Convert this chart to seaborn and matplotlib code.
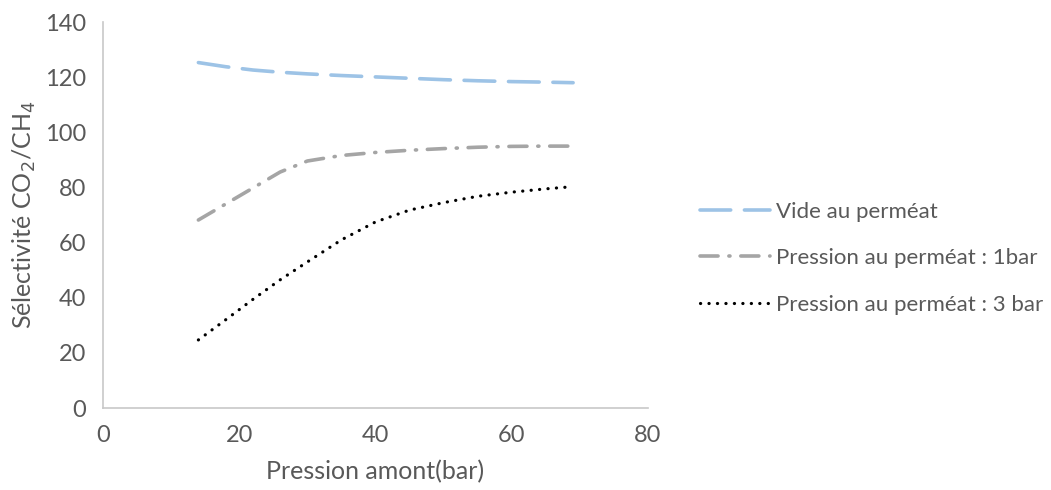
import matplotlib
matplotlib.use("Agg")
import matplotlib.pyplot as plt
import numpy as np
import pandas as pd
import seaborn as sns

# ── données ────────────────────────────────────────────────────────────────────
pression_amont = [14, 18, 22, 26, 30, 35, 40, 45, 50, 55, 60, 65, 69]
vide_permeat = [125.3, 123.8, 122.6, 121.8, 121.2, 120.6, 120.1, 119.6, 119.1, 118.7, 118.4, 118.2, 118.0]
permeat_1bar = [68.2, 74.0, 79.8, 85.6, 89.6, 91.6, 92.7, 93.5, 94.1, 94.6, 94.9, 95.0, 95.0]
permeat_3bar = [24.7, 32.0, 39.4, 46.5, 53.0, 61.0, 67.5, 71.8, 74.5, 76.8, 78.3, 79.5, 80.3]

labels = ["Vide au perméat", "Pression au perméat : 1bar", "Pression au perméat : 3 bar"]
x_ticks = [0, 20, 40, 60, 80]
y_ticks = [0, 20, 40, 60, 80, 100, 120, 140]

TEXT = "#595959"
SPINE = "#c8c8c8"
FS = 17

sns.set_theme(style="white")
plt.rcParams.update({
    "font.family": ["Lato", "DejaVu Sans"],
    "font.size": FS,
    "text.color": TEXT,
    "axes.labelcolor": TEXT,
    "xtick.color": TEXT,
    "ytick.color": TEXT,
})

df = pd.DataFrame({
    "x": pression_amont * 3,
    "y": vide_permeat + permeat_1bar + permeat_3bar,
    "serie": np.repeat(labels, len(pression_amont)),
})

fig = plt.figure(figsize=(10.51, 4.90), dpi=100)
ax = fig.add_axes([0.098, 0.1673, 0.5186, 0.7877])

styles = [
    dict(color="#9dc3e6", lw=2.6, dashes=(8.5, 3.8)),
    dict(color="#a5a5a5", lw=2.6, dashes=(5.0, 3.0, 0.3, 3.0)),
    dict(color="#000000", lw=2.3, dashes=(0.05, 2.6)),
]

for lab, st in zip(labels, styles):
    sub = df[df["serie"] == lab]
    sns.lineplot(data=sub, x="x", y="y", ax=ax, color=st["color"], label=lab,
                 linewidth=st["lw"], sort=False)
    line = ax.get_lines()[-1]
    line.set_dashes(st["dashes"])
    line.set_dash_capstyle("round")

ax.set_xlim(0, 80)
ax.set_ylim(0, 140)
ax.set_xticks(x_ticks)
ax.set_yticks(y_ticks)
ax.tick_params(axis="both", length=0, labelsize=FS)
ax.tick_params(axis="x", pad=12)
ax.tick_params(axis="y", pad=12)

for side in ["top", "right"]:
    ax.spines[side].set_visible(False)
for side in ["left", "bottom"]:
    ax.spines[side].set_color(SPINE)
    ax.spines[side].set_linewidth(1.2)

ax.set_xlabel("Pression amont(bar)", fontsize=18, labelpad=10)
ax.set_ylabel("Sélectivité CO$_2$/CH$_4$", fontsize=18, labelpad=5)

handles, lbls = ax.get_legend_handles_labels()
ax.get_legend().remove()
fig.legend(handles, lbls, loc="center left", bbox_to_anchor=(0.647, 0.473),
           frameon=False, fontsize=16, handlelength=3.15, handletextpad=0.27,
           labelspacing=1.2, labelcolor=TEXT)

fig.savefig("out.png", dpi=100)
